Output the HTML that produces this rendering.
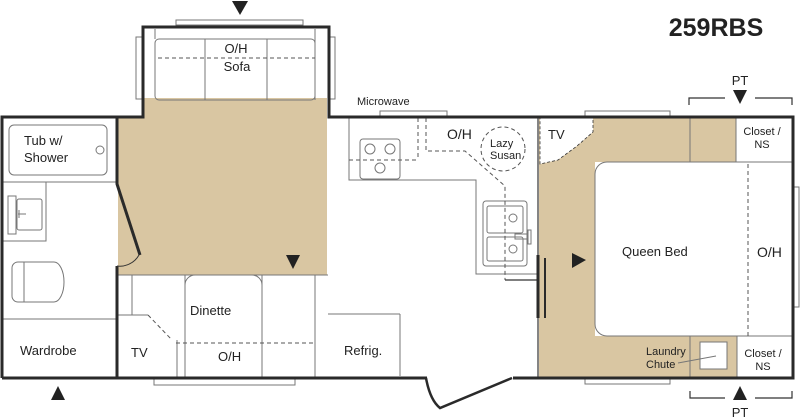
<!DOCTYPE html>
<html><head><meta charset="utf-8"><style>
html,body{margin:0;padding:0;background:#fff;}
svg{display:block;}
text{font-family:"Liberation Sans",Arial,sans-serif;fill:#222;}
</style></head><body>
<svg width="800" height="420" viewBox="0 0 800 420" xmlns="http://www.w3.org/2000/svg">
<!-- tan floors -->
<g fill="#d9c6a2">
<rect x="143" y="98" width="184" height="20"/>
<rect x="118" y="117" width="209" height="158"/>
<rect x="539" y="117" width="197" height="45"/>
<rect x="539" y="117" width="56" height="261"/>
<rect x="539" y="336" width="198" height="42"/>
</g>
<!-- bedroom TV white -->
<path d="M540 118 L593 118 L593 132 L577 146 L558 160 L540 164 Z" fill="#fff" stroke="#333" stroke-width="0.8" stroke-dasharray="3,2"/>
<g fill="none" stroke="#777" stroke-width="1">
<rect x="176" y="20" width="127" height="5"/>
<rect x="136" y="37" width="6" height="62"/>
<rect x="330" y="37" width="5" height="62"/>
<rect x="154" y="379" width="141" height="6"/>
<rect x="380" y="111" width="67" height="6"/>
<rect x="585" y="111" width="85" height="6"/>
<rect x="585" y="378" width="85" height="6"/>
<rect x="793" y="187" width="6" height="120"/>
<rect x="155" y="39" width="160" height="61" rx="4"/>
<line x1="205" y1="39" x2="205" y2="100"/>
<line x1="267" y1="39" x2="267" y2="100"/>
<line x1="155" y1="29" x2="155" y2="39"/>
<line x1="315" y1="29" x2="315" y2="100"/>
<rect x="9" y="125" width="98" height="50" rx="5"/>
<circle cx="100" cy="150" r="4"/>
<line x1="3" y1="182" x2="116" y2="182"/>
<rect x="3" y="182" width="43" height="59"/>
<rect x="8" y="196" width="8" height="38"/>
<rect x="17" y="199" width="25" height="31" rx="2"/>
<path d="M18 214 h8 M19 210 v8"/>
<path d="M18 262 h36 a10 20 0 0 1 0 40 h-36 a6 6 0 0 1 -6 -6 v-28 a6 6 0 0 1 6 -6 Z"/>
<line x1="24" y1="262" x2="24" y2="302"/>
<line x1="3" y1="319" x2="116" y2="319"/>
<line x1="118" y1="275" x2="328" y2="275"/>
<line x1="132" y1="275" x2="132" y2="315"/>
<line x1="118" y1="315" x2="148" y2="315"/>
<line x1="185" y1="275" x2="185" y2="378"/>
<path d="M185 378 V285 a10 10 0 0 1 10 -10 H252 a10 10 0 0 1 10 10 V378"/>
<line x1="262" y1="275" x2="262" y2="378"/>
<line x1="315" y1="275" x2="315" y2="378"/>
<line x1="328" y1="314" x2="400" y2="314"/>
<line x1="400" y1="314" x2="400" y2="376"/>
<line x1="177" y1="340" x2="177" y2="378"/>
<path d="M349 118 V180 H476 V274 H538"/>
<rect x="360" y="139" width="40" height="40" rx="3"/>
<circle cx="370" cy="149" r="5"/><circle cx="390" cy="149" r="5"/><circle cx="380" cy="168" r="5"/>
<rect x="483" y="201" width="44" height="65" rx="3"/>
<rect x="487" y="206" width="36" height="27" rx="2"/>
<rect x="487" y="237" width="36" height="24" rx="2"/>
<circle cx="513" cy="218" r="4"/><circle cx="513" cy="249" r="4"/>
<rect x="515" y="234" width="12" height="5"/>
<rect x="528" y="230" width="3" height="14"/>
<line x1="690" y1="117" x2="690" y2="162"/>
<line x1="690" y1="336" x2="690" y2="378"/>
<rect x="736" y="117" width="56" height="45" fill="#fff"/>
<path d="M792 162 H607 a12 12 0 0 0 -12 12 V324 a12 12 0 0 0 12 12 H792" fill="#fff"/>
<rect x="737" y="336" width="55" height="42" fill="#fff"/>
<rect x="700" y="342" width="27" height="27" fill="#fff"/>
<line x1="678" y1="363" x2="716" y2="356"/>
</g>
<g fill="none" stroke="#555" stroke-width="1" stroke-dasharray="4,3">
<line x1="158" y1="58" x2="315" y2="58"/>
<line x1="349" y1="160" x2="418" y2="160"/>
<path d="M418 118 V160"/>
<path d="M426 118 V151 H465 L505 186 V280"/>
<circle cx="503" cy="149" r="22"/>
<line x1="176" y1="343" x2="315" y2="343"/>
<line x1="148" y1="315" x2="172" y2="340"/>
<line x1="748" y1="164" x2="748" y2="336"/>
</g>
<line x1="505" y1="280" x2="538" y2="280" stroke="#333" stroke-width="1.2"/>
<line x1="538" y1="117" x2="538" y2="378" stroke="#333" stroke-width="1.2"/>
<!-- walls -->
<g fill="none" stroke="#2a2a2a" stroke-width="3">
<path d="M2 378 V117 H143 V27 H329 V117 H793 V378 H2"/>
<path d="M117 117 V184 L140 255"/>
<line x1="117" y1="266" x2="117" y2="378"/>
<line x1="143" y1="27" x2="143" y2="117"/>
</g>
<path d="M117 266 a22 22 0 0 0 22 -11" fill="none" stroke="#333" stroke-width="1"/>
<rect x="427" y="376" width="86" height="5" fill="#fff"/>
<path d="M426 378 Q430 400 440 408 L512 378" fill="none" stroke="#2a2a2a" stroke-width="2.5"/>
<line x1="538" y1="255" x2="538" y2="318" stroke="#2a2a2a" stroke-width="3"/>
<line x1="545" y1="258" x2="545" y2="318" stroke="#2a2a2a" stroke-width="2"/>
<g fill="none" stroke="#333" stroke-width="1.2">
<path d="M689 105 V98 H725 M755 98 H792 V105"/>
<path d="M690 391 V398 H725 M755 398 H792 V391"/>
</g>
<g fill="#222">
<polygon points="232,1 248,1 240,15"/>
<polygon points="51,400 65,400 58,386"/>
<polygon points="286,255 300,255 293,269"/>
<polygon points="572,253 572,268 586,260"/>
<polygon points="733,90 747,90 740,104"/>
<polygon points="733,400 747,400 740,386"/>
</g>
<text x="716" y="36" font-size="25" font-weight="bold" text-anchor="middle" fill="#000">259RBS</text>
<g font-size="13">
<text x="236" y="53" text-anchor="middle">O/H</text>
<text x="237" y="71" text-anchor="middle">Sofa</text>
<text x="24" y="145">Tub w/</text>
<text x="24" y="162">Shower</text>
<text x="20" y="355">Wardrobe</text>
<text x="131" y="357">TV</text>
<text x="190" y="315">Dinette</text>
<text x="218" y="361">O/H</text>
<text x="344" y="355">Refrig.</text>
<text x="447" y="139" font-size="14">O/H</text>
<text x="548" y="139">TV</text>
<text x="622" y="256">Queen Bed</text>
<text x="757" y="257" font-size="14">O/H</text>
<text x="740" y="85" text-anchor="middle">PT</text>
<text x="740" y="417" text-anchor="middle">PT</text>
</g>
<g font-size="11">
<text x="357" y="105">Microwave</text>
<text x="490" y="147">Lazy</text>
<text x="490" y="159">Susan</text>
<text x="762" y="135" text-anchor="middle">Closet /</text>
<text x="762" y="148" text-anchor="middle">NS</text>
<text x="763" y="357" text-anchor="middle">Closet /</text>
<text x="763" y="370" text-anchor="middle">NS</text>
<text x="646" y="355">Laundry</text>
<text x="646" y="368">Chute</text>
</g>
</svg>
</body></html>
